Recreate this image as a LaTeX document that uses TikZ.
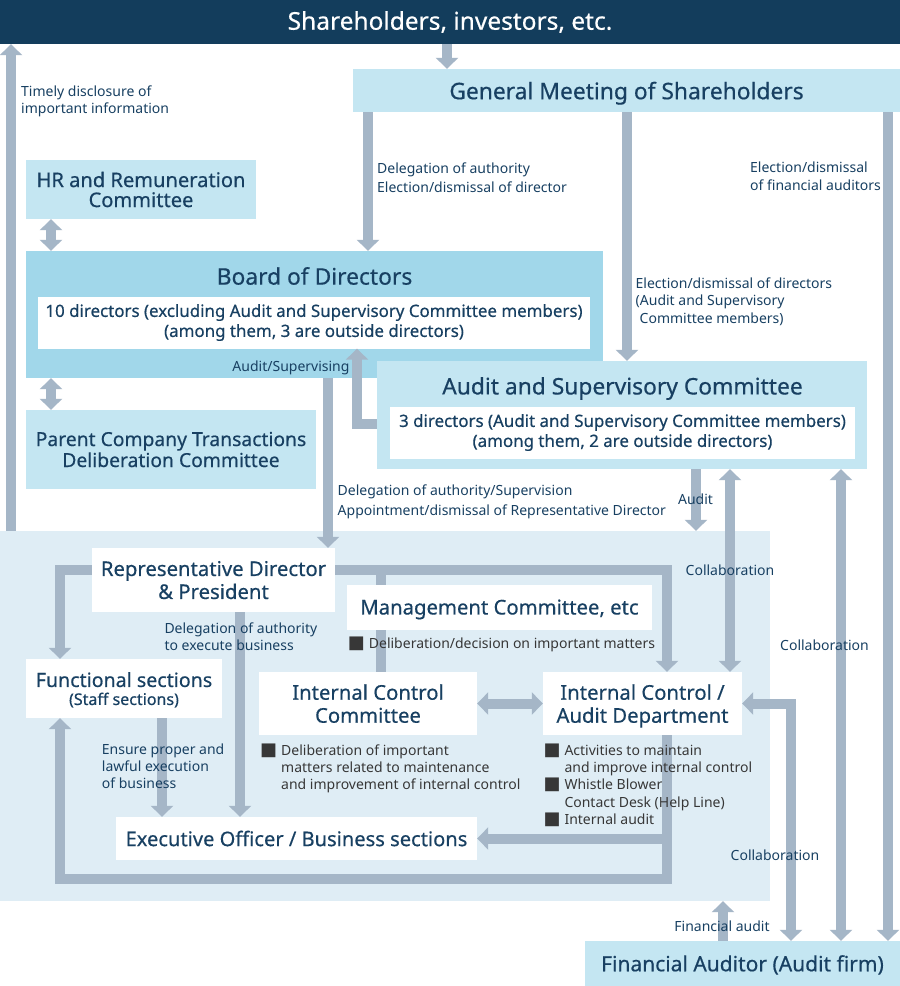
\documentclass[tikz,border=0pt]{standalone}
\usepackage{fontspec}
\setmainfont{Noto Sans}
\newfontfamily\medfont{Noto Sans}[FakeBold=0.45]
\newfontfamily\symfont{DejaVu Sans}
\usetikzlibrary{arrows.meta,positioning}

\definecolor{barnavy}{RGB}{19,61,92}
\definecolor{txtnavy}{RGB}{24,64,98}
\definecolor{paleblue}{RGB}{196,230,242}
\definecolor{bodblue}{RGB}{161,215,234}
\definecolor{areablue}{RGB}{223,237,245}
\definecolor{arrgray}{RGB}{165,182,199}
\definecolor{notegray}{RGB}{55,55,55}

\newcommand{\sqb}{{\symfont\fontsize{18}{17}\selectfont ■}}

\begin{document}
\begin{tikzpicture}[x=1pt,y=-1pt,
  Box/.style={fill=paleblue, text=txtnavy, inner sep=0pt, align=center,
              font=\medfont\fontsize{22.8}{21}\selectfont},
  WBox/.style={Box, fill=white, font=\medfont\fontsize{20.3}{23}\selectfont},
  SubBox/.style={fill=white, text=txtnavy, inner sep=0pt, align=center,
              font=\medfont\fontsize{16.9}{20}\selectfont},
  Lbl/.style={text=txtnavy, inner sep=0pt, align=left, anchor=west, yshift=-1.5pt,
              font=\fontsize{14}{17.5}\selectfont},
  Note/.style={text=notegray, inner sep=0pt, anchor=west, yshift=-2pt,
              font=\fontsize{14}{17.3}\selectfont},
  Arr/.style={draw=arrgray, line width=10pt,
              -{Triangle[width=22pt,length=11pt]}},
  DArr/.style={draw=arrgray, line width=10pt,
              {Triangle[width=22pt,length=11pt]}-{Triangle[width=22pt,length=11pt]}},
  Bar/.style={draw=arrgray, line width=10pt}]

  \fill[white] (0,0) rectangle (900,986);
  \useasboundingbox (0,0) rectangle (900,986);

  %%% executive area %%%
  \node[fill=areablue, minimum width=770pt, minimum height=370pt, inner sep=0pt] (area) at (385,716) {};

  %%% top part %%%
  \node[fill=barnavy, text=white, minimum width=900pt, minimum height=44pt, inner sep=0pt,
        font=\medfont\fontsize{24.5}{24}\selectfont] (share) at (450,22) {Shareholders, investors, etc.};
  \node[Box, minimum width=547pt, minimum height=43pt, text depth=0pt] (gm) at (626.5,90.5) {General Meeting of Shareholders};
  \node[Box, minimum width=230pt, minimum height=59pt, font=\medfont\fontsize{20.1}{20}\selectfont] (hr) at (141,189.5) {HR and Remuneration\\Committee};
  \node[Box, fill=bodblue, minimum width=577pt, minimum height=127pt] (bod) at (314.5,314.5) {};
  \node[Box, fill=none] (bod-title) at (314.5,276) {Board of Directors};
  \node[SubBox, minimum width=552pt, minimum height=52pt] (bod-in) at (314,322.5) {10 directors (excluding Audit and Supervisory Committee members)\\(among them, 3 are outside directors)};
  \node[Box, minimum width=290pt, minimum height=79pt, font=\medfont\fontsize{19.3}{21}\selectfont] (pct) at (171,449.5) {Parent Company Transactions\\Deliberation Committee};
  \node[Box, minimum width=490pt, minimum height=108pt] (asc) at (622,415) {};
  \node[Box, fill=none] (asc-title) at (622.5,388.5) {Audit and Supervisory Committee};
  \node[SubBox, minimum width=465pt, minimum height=52pt] (asc-in) at (622.5,432.5) {3 directors (Audit and Supervisory Committee members)\\(among them, 2 are outside directors)};

  %%% inside the area %%%
  \node[WBox, minimum width=243pt, minimum height=64pt, text depth=-3pt] (rep) at (213.5,580) {Representative Director\\\& President};
  \node[WBox, minimum width=305pt, minimum height=45pt, text depth=1pt] (mgmt) at (499.5,607.5) {Management Committee, etc};
  \node[WBox, minimum width=196pt, minimum height=59pt, font=\medfont\fontsize{19.6}{23}\selectfont, text depth=-5pt] (func) at (124,688.5) {Functional sections\\[-5pt]{\fontsize{16}{18}\selectfont (Staff sections)}};
  \node[WBox, minimum width=218pt, minimum height=63pt, text depth=-6pt] (icc) at (368,703.5) {Internal Control\\Committee};
  \node[WBox, minimum width=199pt, minimum height=63pt, text depth=-2.5pt] (icad) at (642.5,703.5) {Internal Control /\\Audit Department};
  \node[WBox, minimum width=361pt, minimum height=43pt, font=\medfont\fontsize{20.1}{23}\selectfont] (exec) at (296.5,838.5) {Executive Officer / Business sections};
  \node[Box, minimum width=315pt, minimum height=45pt, font=\medfont\fontsize{21}{21}\selectfont, text depth=0.5pt] (fa) at (742.5,963.5) {Financial Auditor (Audit firm)};

  %%% arrow lanes %%%
  \coordinate (x-disc) at (11,0);
  \coordinate (x-gm) at (447,0);
  \coordinate (x-bod) at (368,0);
  \coordinate (x-asc) at (627,0);
  \coordinate (x-fa) at (888,0);
  \coordinate (x-side) at (51,0);
  \coordinate (x-sup) at (357,0);
  \coordinate (y-sup) at (0,424);
  \coordinate (x-rep) at (328,0);
  \coordinate (x-audit) at (696,0);
  \coordinate (x-col1) at (730,0);
  \coordinate (x-col2) at (841,0);
  \coordinate (x-col3) at (791,0);
  \coordinate (x-fin) at (723,0);
  \coordinate (y-top) at (0,570);
  \coordinate (x-left) at (60,0);
  \coordinate (x-right) at (667,0);
  \coordinate (x-icc) at (381,0);
  \coordinate (x-exe) at (240,0);
  \coordinate (x-ens) at (162,0);
  \coordinate (y-loop) at (0,879);

  %%% arrows %%%
  \draw[Arr] (area.north -| x-disc) -- (share.south -| x-disc);
  \draw[Arr] (share.south -| x-gm) -- (gm.north -| x-gm);
  \draw[Arr] (gm.south -| x-bod) -- (bod.north -| x-bod);
  \draw[Arr] (gm.south -| x-asc) -- (asc.north -| x-asc);
  \draw[Arr] (gm.south -| x-fa) -- (fa.north -| x-fa);
  \draw[DArr] (hr.south -| x-side) -- (bod.north -| x-side);
  \draw[DArr] (bod.south -| x-side) -- (pct.north -| x-side);
  \draw[Arr] (asc.west |- y-sup) -| (bod-in.south -| x-sup);
  \draw[Arr] (bod.south -| x-rep) -- (rep.north -| x-rep);
  \draw[Arr] (asc.south -| x-audit) -- (area.north -| x-audit);
  \draw[DArr] (asc.south -| x-col1) -- (icad.north -| x-col1);
  \draw[DArr] (asc.south -| x-col2) -- (fa.north -| x-col2);
  \draw[DArr] (fa.north -| x-col3) |- (icad.east);
  \draw[Arr] (fa.north -| x-fin) -- (area.south -| x-fin);
  % from the president
  \draw[Arr] (rep.west |- y-top) -| (func.north -| x-left);
  \draw[Arr] (rep.east |- y-top) -| (icad.north -| x-right);
  \draw[Bar] (x-icc |- y-top) -- (mgmt.north -| x-icc);
  \draw[Bar] (mgmt.south -| x-icc) -- (icc.north -| x-icc);
  \draw[Arr] (rep.south -| x-exe) -- (exec.north -| x-exe);
  \draw[Arr] (func.south -| x-ens) -- (exec.north -| x-ens);
  \draw[DArr] (icc.east) -- (icad.west);
  \draw[Arr] (icad.south -| x-right) |- (exec.east);
  \draw[Arr] (icad.south -| x-right) -- (x-right |- y-loop) -| (func.south -| x-left);

  %%% labels %%%
  \node[Lbl] (l-disc) at (21,100) {Timely disclosure of\\important information};
  \node[Lbl, font=\fontsize{14}{19}\selectfont] (l-gmbod) at (377,176) {Delegation of authority\\Election/dismissal of director};
  \node[Lbl] (l-gmfa) at (750,174.5) {Election/dismissal\\of financial auditors};
  \node[Lbl] (l-gmasc) at (635.5,300) {Election/dismissal of directors\\(Audit and Supervisory\\\hspace*{4pt}Committee members)};
  \node[Lbl, anchor=center] (l-sup) at (291,366) {Audit/Supervising};
  \node[Lbl, font=\fontsize{14}{20}\selectfont] (l-deleg) at (337.5,500.7) {Delegation of authority/Supervision\\Appointment/dismissal of Representative Director};
  \node[Lbl, anchor=center] (l-audit) at (695.5,497.7) {Audit};
  \node[Lbl, anchor=center] (l-col1) at (730,569) {Collaboration};
  \node[Lbl, anchor=center] (l-col2) at (824.5,643.3) {Collaboration};
  \node[Lbl, anchor=center] (l-col3) at (775,853.3) {Collaboration};
  \node[Lbl, anchor=center] (l-fin) at (722,925) {Financial audit};
  \node[Lbl, font=\fontsize{14}{16.8}\selectfont] (l-exe) at (164.3,635) {Delegation of authority\\to execute business};
  \node[Lbl, font=\fontsize{14}{17}\selectfont] (l-ens) at (101.7,764.7) {Ensure proper and\\lawful execution\\of business};

  %%% notes %%%
  \node[Note] (n-mgmt) at (347.7,642.7) {\sqb\hspace{4pt}Deliberation/decision on important matters};
  \node[Note] (n-icc) at (260,767) {\begin{tabular}{@{}l@{\hspace{4pt}}l@{}}
    \sqb & Deliberation of important\\
         & matters related to maintenance\\
         & and improvement of internal control
    \end{tabular}};
  \node[Note] (n-icad) at (543.3,784.5) {\begin{tabular}{@{}l@{\hspace{4pt}}l@{}}
    \sqb & Activities to maintain\\
         & and improve internal control\\
    \sqb & Whistle Blower\\
         & Contact Desk (Help Line)\\
    \sqb & Internal audit
    \end{tabular}};
\end{tikzpicture}
\end{document}
